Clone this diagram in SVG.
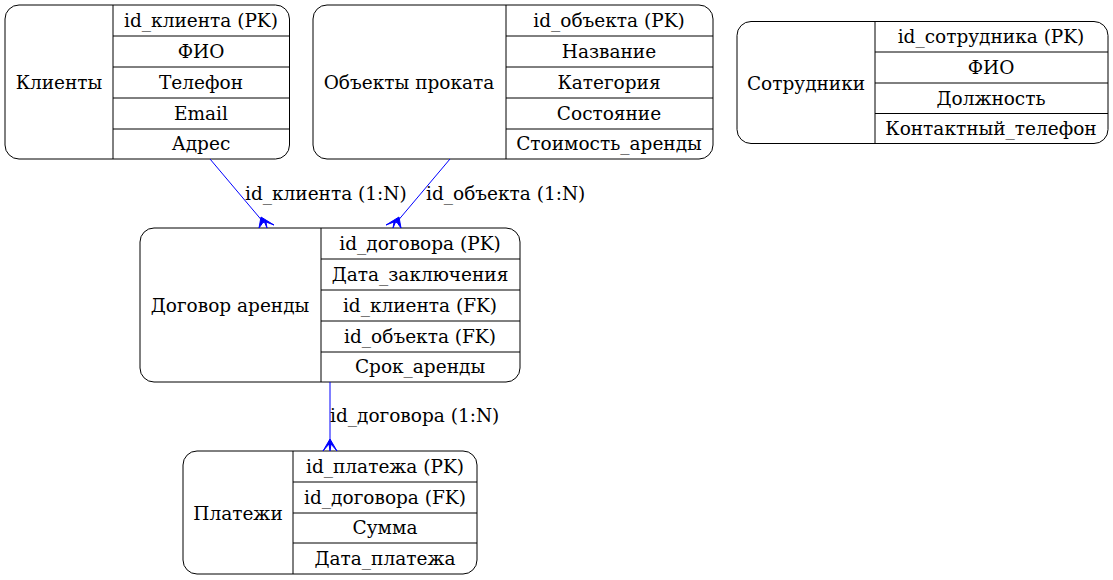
<svg xmlns="http://www.w3.org/2000/svg" width="1113" height="580" viewBox="0 0 1113 580">
<style>
.box{fill:#fff;stroke:#000;stroke-width:1}
.ln{stroke:#000;stroke-width:1;fill:none}
text{font-family:"DejaVu Serif",serif;font-size:18.5px;fill:#000;text-anchor:middle}
.edge{stroke:#0000ff;stroke-width:1;fill:none}
.crow{fill:#0000ff;stroke:#0000ff;stroke-width:1}
.el{text-anchor:start}
</style>
<rect width="1113" height="580" fill="#fff"/>
<g id="clients">
<rect class="box" x="5" y="5" width="284.5" height="154" rx="14"/>
<path class="ln" d="M113,5V159M113,36H289.5M113,67H289.5M113,98H289.5M113,129H289.5"/>
<text x="59" y="89">Клиенты</text>
<text x="201" y="27">id_клиента (PK)</text>
<text x="201" y="58">ФИО</text>
<text x="201" y="89">Телефон</text>
<text x="201" y="120">Email</text>
<text x="201" y="150">Адрес</text>
</g>
<g id="objects">
<rect class="box" x="313" y="5" width="400" height="154" rx="14"/>
<path class="ln" d="M506,5V159M506,36H713M506,67H713M506,98H713M506,129H713"/>
<text x="409" y="89">Объекты проката</text>
<text x="609" y="27">id_объекта (PK)</text>
<text x="609" y="58">Название</text>
<text x="609" y="89">Категория</text>
<text x="609" y="120">Состояние</text>
<text x="609" y="150">Стоимость_аренды</text>
</g>
<g id="staff">
<rect class="box" x="737" y="21.5" width="371" height="122" rx="14"/>
<path class="ln" d="M875,21.5V143.5M875,52H1108M875,83H1108M875,113.5H1108"/>
<text x="806" y="90">Сотрудники</text>
<text x="991" y="43">id_сотрудника (PK)</text>
<text x="991" y="74">ФИО</text>
<text x="991" y="105">Должность</text>
<text x="991" y="135">Контактный_телефон</text>
</g>
<g id="contract">
<rect class="box" x="140" y="228" width="380" height="154" rx="14"/>
<path class="ln" d="M321,228V382M321,259H520M321,290H520M321,321H520M321,352H520"/>
<text x="230" y="312">Договор аренды</text>
<text x="420" y="250">id_договора (PK)</text>
<text x="420" y="281">Дата_заключения</text>
<text x="420" y="312">id_клиента (FK)</text>
<text x="420" y="343">id_объекта (FK)</text>
<text x="420" y="373">Срок_аренды</text>
</g>
<g id="payments">
<rect class="box" x="183" y="451" width="294" height="123" rx="14"/>
<path class="ln" d="M293,451V574M293,482H477M293,513H477M293,543H477"/>
<text x="238" y="520">Платежи</text>
<text x="385" y="473">id_платежа (PK)</text>
<text x="385" y="504">id_договора (FK)</text>
<text x="385" y="534">Сумма</text>
<text x="385" y="565">Дата_платежа</text>
</g>
<g id="connectors">
<path class="edge" d="M210,159L264,223"/>
<path class="crow" d="M259,228L261,217L274,225L266,222L267,228L264,221Z"/>
<text class="el" x="245" y="200">id_клиента (1:N)</text>
<path class="edge" d="M450,159L396,223"/>
<path class="crow" d="M401,228L399,217L386,225L394,222L393,228L396,221Z"/>
<text class="el" x="426" y="200">id_объекта (1:N)</text>
<path class="edge" d="M330,382V446"/>
<path class="crow" d="M323,451L330,439L337,451L331,444L330,451L329,444Z"/>
<text class="el" x="330" y="422">id_договора (1:N)</text>
</g>
</svg>
